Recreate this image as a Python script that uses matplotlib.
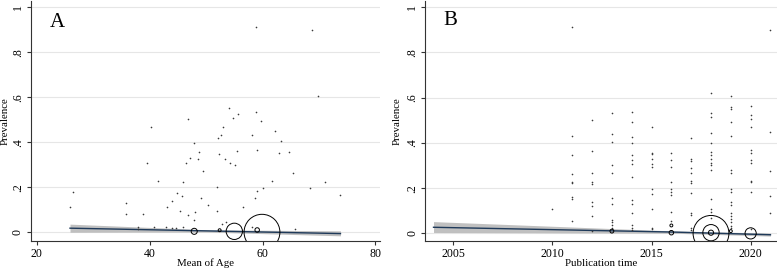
import matplotlib.pyplot as plt
import numpy as np

# ---- panel A: prevalence vs mean age ----
age_x = [58.9, 68.8, 69.85, 54.0, 58.9, 46.8, 55.6, 54.7, 59.7, 40.2, 53.0, 62.2,
         58.2, 52.6, 52.1, 63.2, 47.9, 59.1, 48.8, 55.5, 64.7, 63.0, 52.3, 47.2,
         48.6, 53.3, 39.5, 54.2, 46.4, 55.2, 49.5, 65.4, 41.4, 46.0, 61.6, 71.0,
         51.9, 60.1, 68.4, 26.5, 59.1, 44.9, 73.7, 45.8, 58.6, 49.1, 35.9, 43.9,
         50.4, 56.6, 43.1, 25.9, 45.4, 51.9, 48.0, 35.9, 38.9, 46.8, 47.9, 53.6,
         52.9, 37.9, 40.8, 42.9, 44.0, 44.6, 46.0, 37.9, 65.7, 58.2]
age_y = [0.911, 0.898, 0.606, 0.551, 0.535, 0.502, 0.526, 0.507, 0.496, 0.468, 0.470, 0.450,
         0.431, 0.431, 0.419, 0.407, 0.396, 0.364, 0.357, 0.359, 0.356, 0.353, 0.347, 0.329,
         0.324, 0.324, 0.307, 0.308, 0.307, 0.301, 0.270, 0.264, 0.228, 0.225, 0.228, 0.225,
         0.199, 0.196, 0.196, 0.181, 0.184, 0.173, 0.167, 0.160, 0.154, 0.151, 0.130, 0.138,
         0.123, 0.110, 0.111, 0.110, 0.095, 0.093, 0.092, 0.083, 0.083, 0.076, 0.056, 0.044,
         0.037, 0.024, 0.024, 0.024, 0.020, 0.020, 0.024, 0.013, 0.015, 0.025]
age_bub_x = [47.9, 52.4, 55.0, 59.9, 59.05]
age_bub_y = [0.004, 0.009, 0.004, 0.000, 0.010]
age_bub_w = [7.3, 1.7, 53.0, 256.0, 4.0]
age_fit_x = [25.9, 50.0, 73.8]
age_fit_y = [0.018, 0.006, -0.006]
age_ci_lo = [0.000, 0.001, -0.016]
age_ci_hi = [0.036, 0.011, 0.006]

# ---- panel B: prevalence vs publication year ----
pub_points = {
    2010: [0.108],
    2011: [0.911, 0.431, 0.345, 0.264, 0.229, 0.221, 0.162, 0.150, 0.056],
    2012: [0.500, 0.363, 0.268, 0.229, 0.220, 0.137, 0.121, 0.078, 0.010],
    2013: [0.531, 0.438, 0.406, 0.300, 0.265, 0.158, 0.130, 0.059, 0.052, 0.037, 0.025],
    2014: [0.535, 0.494, 0.428, 0.401, 0.345, 0.326, 0.307, 0.251, 0.147, 0.130, 0.091,
           0.035, 0.024, 0.016],
    2015: [0.468, 0.357, 0.350, 0.327, 0.305, 0.295, 0.198, 0.174, 0.106, 0.025, 0.019],
    2016: [0.355, 0.324, 0.293, 0.229, 0.196, 0.181, 0.170, 0.094, 0.056],
    2017: [0.420, 0.329, 0.322, 0.288, 0.265, 0.232, 0.224, 0.180, 0.091, 0.081, 0.025, 0.015],
    2018: [0.619, 0.532, 0.513, 0.442, 0.398, 0.358, 0.345, 0.329, 0.310, 0.300, 0.282,
           0.150, 0.106, 0.093, 0.066],
    2019: [0.605, 0.560, 0.550, 0.491, 0.429, 0.282, 0.265, 0.196, 0.183, 0.140, 0.125,
           0.091, 0.077, 0.063, 0.049, 0.034, 0.025],
    2020: [0.563, 0.522, 0.504, 0.469, 0.370, 0.357, 0.324, 0.310, 0.233, 0.229, 0.184, 0.018],
    2021: [0.897, 0.448, 0.277, 0.167, 0.091],
}
pub_bub_x = [2013, 2016, 2016, 2018, 2018, 2018, 2019, 2020]
pub_bub_y = [0.010, 0.003, 0.035, 0.000, 0.003, 0.003, 0.010, 0.000]
pub_bub_w = [2.9, 4.0, 1.7, 256.0, 53.0, 5.3, 1.7, 25.0]
pub_fit_x = [2004.0, 2016.0, 2021.0]
pub_fit_y = [0.027, 0.006, -0.006]
pub_ci_lo = [0.004, 0.001, -0.012]
pub_ci_hi = [0.052, 0.011, 0.001]

FONT = "Liberation Serif"
LINE = "#1f3a5a"
BAND = "#b5b5b5"
GRID = "#e6e6e6"
AXIS = "#333333"
W, H = 777, 271


def style_axis(ax, xlim, ylim, xticks, xlabel, letter, letter_xy, label_pos):
    ax.set_xlim(*xlim)
    ax.set_ylim(*ylim)
    yt = [0, 0.2, 0.4, 0.6, 0.8, 1.0]
    ax.set_yticks(yt)
    ax.set_yticklabels(["0", ".2", ".4", ".6", ".8", "1"], rotation=90,
                       va="center", family=FONT, fontsize=8.5)
    ax.set_xticks(xticks)
    ax.set_xticklabels([str(t) for t in xticks], family=FONT, fontsize=8.5)
    for y in yt:
        ax.axhline(y, color=GRID, lw=0.8, zorder=0)
    for side in ("top", "right"):
        ax.spines[side].set_visible(False)
    for side in ("left", "bottom"):
        ax.spines[side].set_color(AXIS)
        ax.spines[side].set_linewidth(0.8)
    ax.tick_params(direction="out", length=3, width=0.8, color=AXIS, pad=2)
    ax.set_xlabel(xlabel, family=FONT, fontsize=7.8, va="center")
    ax.set_ylabel("Prevalence", family=FONT, fontsize=7.8, va="center")
    ax.xaxis.set_label_coords(0.5, label_pos[1])
    ax.yaxis.set_label_coords(label_pos[0], 0.5)
    ax.text(letter_xy[0], letter_xy[1], letter, family=FONT, fontsize=15,
            ha="left", va="top")


def draw(ax, px, py, bx, by, bw, fx, fy, lo, hi):
    ax.fill_between(fx, lo, hi, color=BAND, alpha=0.85, lw=0, zorder=2)
    ax.plot(fx, fy, color=LINE, lw=1.0, zorder=3)
    ax.scatter(px, py, s=1.4, color="#3a3a3a", lw=0, zorder=4)
    ax.scatter(bx, by, s=np.asarray(bw) * 2.6, facecolors="none",
               edgecolors="black", linewidths=0.7, zorder=5)


fig = plt.figure(figsize=(W / 100, H / 100), dpi=100)

ax_a = fig.add_axes([30.7 / W, (H - 241) / H, (380 - 30.7) / W, 240 / H])
draw(ax_a, age_x, age_y, age_bub_x, age_bub_y, age_bub_w,
     age_fit_x, age_fit_y, age_ci_lo, age_ci_hi)
style_axis(ax_a, (18.94, 80.8), (-0.039, 1.028), [20, 40, 60, 80],
           "Mean of Age", "A", (22.3, 0.975), (-0.072, -0.092))

pub_x = [yr for yr, vals in pub_points.items() for _ in vals]
pub_y = [v for vals in pub_points.values() for v in vals]
ax_b = fig.add_axes([425 / W, (H - 241.3) / H, (777 - 425) / W, 240.3 / H])
draw(ax_b, pub_x, pub_y, pub_bub_x, pub_bub_y, pub_bub_w,
     pub_fit_x, pub_fit_y, pub_ci_lo, pub_ci_hi)
style_axis(ax_b, (2003.57, 2021.33), (-0.035, 1.027), [2005, 2010, 2015, 2020],
           "Publication time", "B", (2004.5, 0.985), (-0.078, -0.092))

fig.savefig("out.png", dpi=100, facecolor="white")
